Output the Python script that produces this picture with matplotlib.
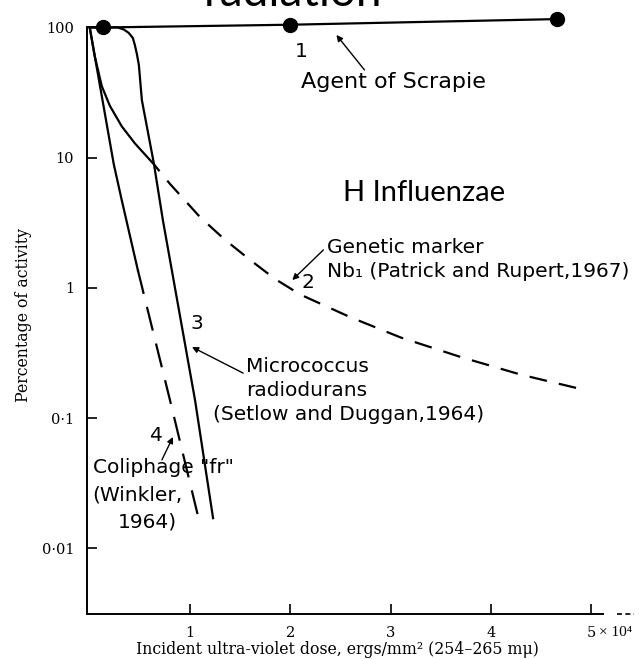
import numpy as np
import matplotlib
matplotlib.use("Agg")
import matplotlib.pyplot as plt
from matplotlib.ticker import FixedLocator, NullLocator, FixedFormatter

# curve 1: agent of scrapie (points with line)
scrapie_x = [0.0, 0.13, 2.0, 4.66]
scrapie_y = [100, 100, 105, 116]
scrapie_dots_x = [0.13, 2.0, 4.66]
scrapie_dots_y = [100, 105, 116]

# curve 2: H influenzae genetic marker Nb1 (solid start, then dashed)
h_x = [0.0, 0.05, 0.12, 0.2, 0.32, 0.45, 0.64, 0.8, 1.1, 1.35, 1.6, 1.85,
       2.1, 2.6, 3.1, 3.7, 4.3, 4.92]
h_y = [100, 60.3, 35.5, 25.1, 17.4, 12.9, 8.9, 6.3, 3.5, 2.34, 1.64, 1.17,
       0.89, 0.596, 0.417, 0.295, 0.216, 0.166]
h_solid_end = 6

# curve 3: Micrococcus radiodurans (shoulder)
m_x = [0.0, 0.20, 0.28, 0.34, 0.39, 0.43, 0.45, 0.47, 0.49, 0.52, 0.64,
       0.73, 1.05, 1.23]
m_y = [100, 100, 100, 96.5, 90.7, 83, 73.4, 62.7, 51.5, 27.7, 9.0,
       3.3, 0.138, 0.0171]

# curve 4: coliphage fr (solid start, then long dashes)
c_x = [0.0, 0.24, 0.32, 0.48, 0.80, 1.10]
c_y = [100, 8.9, 4.7, 1.37, 0.138, 0.0153]
c_solid_end = 3

yticks = [0.01, 0.1, 1, 10, 100]
ylabels = ["0\u00b701", "0\u00b71", "1", "10", "100"]
xticks = [1, 2, 3, 4, 5]
xlabels = ["1", "2", "3", "4", "5"]

ylow, yhigh = 10 ** -2.503, 10 ** 2.211
xlow, xhigh = -0.03, 5.45

fig = plt.figure(figsize=(6.39, 6.59), dpi=100)
ax = fig.add_axes([0.1357, 0.0683, 0.860, 0.9317])
ax.set_yscale("log")
ax.set_xlim(xlow, xhigh)
ax.set_ylim(ylow, yhigh)

lw = 1.6
k = "black"
ax.plot(scrapie_x, scrapie_y, color=k, lw=lw)
ax.plot(scrapie_dots_x, scrapie_dots_y, "o", color=k, ms=10, clip_on=False)

ax.plot(h_x[:h_solid_end + 1], h_y[:h_solid_end + 1], color=k, lw=lw)
ax.plot(h_x[h_solid_end:], h_y[h_solid_end:], color=k, lw=lw, ls=(4, (8, 5.5)))

ax.plot(m_x, m_y, color=k, lw=lw)

ax.plot(c_x[:c_solid_end + 1], c_y[:c_solid_end + 1], color=k, lw=lw)
ax.plot(c_x[c_solid_end:], c_y[c_solid_end:], color=k, lw=lw, ls=(0, (11, 6)))

# axes styling
for s in ["top", "right"]:
    ax.spines[s].set_visible(False)
ax.spines["left"].set_bounds(ylow, 100)
ax.spines["bottom"].set_bounds(xlow, 5.12)
ax.spines["left"].set_linewidth(1.4)
ax.spines["bottom"].set_linewidth(1.4)
ax.plot([0.965, 0.995], [0, 0], transform=ax.transAxes, color=k, lw=1.2,
        ls=(0, (3, 2)), clip_on=False)

ax.yaxis.set_major_locator(FixedLocator(yticks))
ax.yaxis.set_major_formatter(FixedFormatter(ylabels))
ax.yaxis.set_minor_locator(NullLocator())
ax.xaxis.set_major_locator(FixedLocator(xticks))
ax.xaxis.set_major_formatter(FixedFormatter(xlabels))
ax.tick_params(direction="in", length=7, width=1.2, labelsize=10.5, pad=9)
for lab in ax.get_xticklabels() + ax.get_yticklabels():
    lab.set_family("DejaVu Serif")

ax.annotate("\u00d7 10\u2074", xy=(5.0, 0), xycoords=ax.get_xaxis_transform(),
            xytext=(5.5, -13), textcoords="offset points", ha="left",
            va="center", fontsize=11, family="Liberation Serif")

ax.set_xlabel("Incident ultra-violet dose, ergs/mm\u00b2 (254\u2013265 m\u03bc)",
              family="DejaVu Serif", fontsize=11.3, va="center")
ax.xaxis.set_label_coords(0.457, -36 / 614)
ax.set_ylabel("Percentage of activity", family="DejaVu Serif", fontsize=11.3,
              va="center")
ax.yaxis.set_label_coords(-0.115, 0.487)

# cut-off title
fig.text(0.458, 1 - 6 / 659, "radiation", family="Lato", fontsize=33,
         ha="center", va="baseline")

hand = dict(family="DejaVu Sans", fontsize=14.5, color=k, va="center")
arrow = dict(arrowstyle="-|>", color=k, lw=1.0, mutation_scale=9,
             shrinkA=0, shrinkB=0)

ax.text(2.11, 64.9, "1", ha="center", **hand)
ax.text(2.11, 38.2, "Agent of Scrapie", ha="left",
        **{**hand, "fontsize": 16})
ax.annotate("", xy=(2.46, 87.6), xytext=(2.74, 47.2), arrowprops=arrow)

ax.text(2.53, 5.36, "H Influenzae", ha="left", family="Lato", fontsize=21,
        va="center")

ax.text(2.37, 2.06, "Genetic marker", ha="left", **hand)
ax.text(2.37, 1.33, "Nb\u2081 (Patrick and Rupert,1967)", ha="left", **hand)
ax.annotate("", xy=(2.02, 1.15), xytext=(2.33, 1.96), arrowprops=arrow)
ax.text(2.18, 1.11, "2", ha="center", **hand)

ax.text(1.07, 0.538, "3", ha="center", **hand)
ax.annotate("", xy=(1.02, 0.352), xytext=(1.53, 0.222), arrowprops=arrow)
ax.text(1.56, 0.248, "Micrococcus", ha="left", **hand)
ax.text(1.56, 0.162, "radiodurans", ha="left", **hand)
ax.text(1.23, 0.106, "(Setlow and Duggan,1964)", ha="left", **hand)

ax.text(0.67, 0.0743, "4", ha="center", **hand)
ax.annotate("", xy=(0.83, 0.0718), xytext=(0.72, 0.0479), arrowprops=arrow)
ax.text(0.03, 0.0415, 'Coliphage "fr"', ha="left", **hand)
ax.text(0.03, 0.0258, "(Winkler,", ha="left", **hand)
ax.text(0.28, 0.016, "1964)", ha="left", **hand)

fig.savefig("out.png", dpi=100)
